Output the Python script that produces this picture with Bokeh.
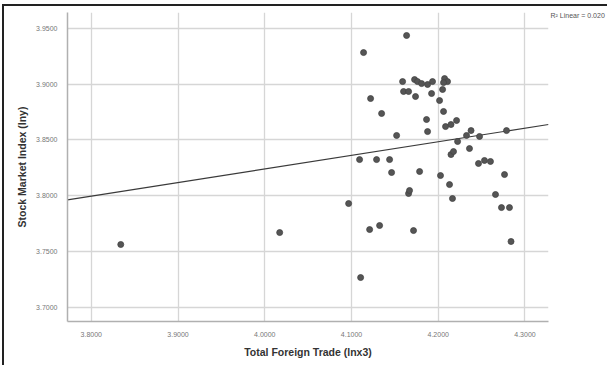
from bokeh.plotting import figure
from bokeh.models import FixedTicker, PrintfTickFormatter, Title, ColumnDataSource, Range1d
from bokeh.embed import file_html
from bokeh.resources import INLINE

# ---- data ----
trade_lnx3 = [
    3.8340, 4.0172, 4.0967, 4.1093, 4.1105, 4.1139, 4.1209, 4.1220, 4.1289, 4.1324,
    4.1347, 4.1439, 4.1462, 4.1520, 4.1589, 4.1600, 4.1635, 4.1658, 4.1658, 4.1669,
    4.1715, 4.1727, 4.1738, 4.1761, 4.1785, 4.1808, 4.1865, 4.1877, 4.1877, 4.1923,
    4.1934, 4.2015, 4.2026, 4.2050, 4.2061, 4.2073, 4.2107, 4.2061, 4.2084, 4.2130,
    4.2147, 4.2147, 4.2176, 4.2164, 4.2211, 4.2223, 4.2326, 4.2360, 4.2378, 4.2464,
    4.2476, 4.2533, 4.2602, 4.2660, 4.2729, 4.2764, 4.2787, 4.2821, 4.2839,
]
stock_lny = [
    3.7562, 3.7669, 3.7929, 3.8323, 3.7266, 3.9282, 3.7696, 3.8870, 3.8323, 3.7732,
    3.8736, 3.8323, 3.8207, 3.8539, 3.9022, 3.8933, 3.9435, 3.8933, 3.8019, 3.8046,
    3.7687, 3.9040, 3.8888, 3.9022, 3.8216, 3.9004, 3.8682, 3.8996, 3.8574, 3.8915,
    3.9022, 3.8852, 3.8180, 3.8951, 3.8754, 3.9049, 3.9022, 3.9013, 3.8619, 3.8099,
    3.8637, 3.8368, 3.8395, 3.7974, 3.8673, 3.8485, 3.8539, 3.8422, 3.8583, 3.8288,
    3.8530, 3.8315, 3.8306, 3.8010, 3.7893, 3.8189, 3.8583, 3.7893, 3.7589,
]
fit_intercept = 3.3371
fit_slope = 0.1217
r2_text = "R\u00b2 Linear = 0.020"

x_ticks = [3.80, 3.90, 4.00, 4.10, 4.20, 4.30]
y_ticks = [3.70, 3.75, 3.80, 3.85, 3.90, 3.95]

x_lo, x_hi = 3.7726, 4.3271
y_lo, y_hi = 3.6872, 3.9641

p = figure(width=605, height=361, output_backend="svg", toolbar_location=None,
           x_range=Range1d(x_lo, x_hi), y_range=Range1d(y_lo, y_hi),
           min_border_left=63, min_border_right=61, min_border_top=6, min_border_bottom=46)
p.styles = {"margin-left": "2px", "margin-top": "4px", "border-left": "2px solid #222",
            "border-top": "2px solid #222"}
p.outline_line_color = None
p.background_fill_color = "white"
p.border_fill_color = "white"

grid_col = "#d6d6d6"
for ax in (p.xaxis[0], p.yaxis[0]):
    ax.axis_line_color = "#b0b0b0"
    ax.axis_line_width = 1.5
    ax.major_tick_line_color = None
    ax.minor_tick_line_color = None
    ax.major_label_text_font = "Liberation Sans"
    ax.major_label_text_font_size = "7px"
    ax.major_label_text_color = "#777777"
    ax.axis_label_text_font = "Liberation Sans"
    ax.axis_label_text_font_style = "bold"
    ax.axis_label_text_font_size = "10.5px"
    ax.axis_label_text_color = "#333333"
    ax.formatter = PrintfTickFormatter(format="%.4f")

p.xaxis[0].ticker = FixedTicker(ticks=x_ticks)
p.yaxis[0].ticker = FixedTicker(ticks=y_ticks)
p.xaxis[0].axis_label = "Total Foreign Trade (lnx3)"
p.yaxis[0].axis_label = "Stock Market Index (lny)"
p.xaxis[0].major_label_standoff = 4
p.yaxis[0].major_label_standoff = 4
p.xaxis[0].axis_label_standoff = 6
p.yaxis[0].axis_label_standoff = 5

p.xgrid.ticker = FixedTicker(ticks=x_ticks)
p.ygrid.ticker = FixedTicker(ticks=y_ticks)
p.xgrid.grid_line_color = grid_col
p.ygrid.grid_line_color = grid_col
p.xgrid.grid_line_width = 1.3
p.ygrid.grid_line_width = 1.3

# regression line over the full x range
p.line([x_lo, x_hi], [fit_intercept + fit_slope * x_lo, fit_intercept + fit_slope * x_hi],
       line_color="#3a3a3a", line_width=1.1)

src = ColumnDataSource(dict(x=trade_lnx3, y=stock_lny))
p.scatter("x", "y", source=src, size=6, fill_color="#555555", line_color="#444444",
          line_width=0.8)

p.add_layout(Title(text=r2_text, align="left", offset=483, standoff=-12,
                   text_font="Liberation Sans", text_font_size="7px",
                   text_font_style="normal", text_color="#555555"), "above")

open("out.html", "w").write(file_html(p, INLINE))
